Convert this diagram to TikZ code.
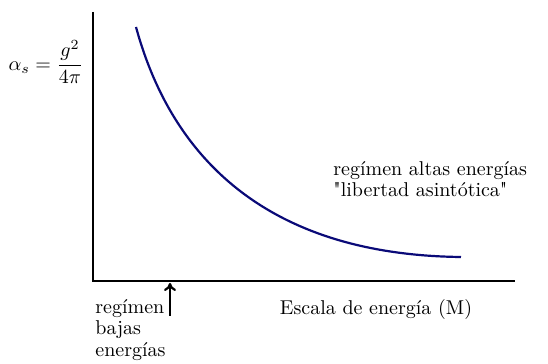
\documentclass[tikz,border=0pt]{standalone}
\usepackage{amsmath}
\usepackage{tikz}
\usetikzlibrary{arrows.meta, positioning}

\begin{document}
\begin{tikzpicture}[
    x=0.5pt, y=-0.5pt,
    axis/.style={line width=1.4pt, black},
    curve/.style={line width=1.1pt, draw={rgb,255:red,10;green,10;blue,120}},
    pointer/.style={-{To[length=4pt, width=6pt]}, line width=1.1pt, black},
    label/.style={align=left, inner sep=0pt, font={\fontsize{10}{10.8}\selectfont}}
]
    \useasboundingbox (0,0) rectangle (548,364);

    % Axes
    \coordinate (ytop) at (93,12);
    \coordinate (xend) at (515,281);
    \draw [axis] (ytop) |- (xend);

    % Coupling curve
    \coordinate (start) at (136,27);
    \coordinate (stop) at (461,257);
    \draw [curve] (start) .. controls (175,170) and (280,255) .. (stop);

    % Labels
    \node (alpha) [inner sep=0pt] at (46,62) {$\alpha_s = \dfrac{g^2}{4\pi}$};
    \node (high) [label, anchor=north west] at (333,161) {regímen altas energías\\\textquotedbl libertad asintótica\textquotedbl};
    \node (scale) [label, anchor=north] at (376,299) {Escala de energía (M)};
    \node (low) [label, anchor=north west] at (95,299) {regímen\\bajas\\energías};

    % Low energy pointer
    \coordinate (lowtip) at (170,283);
    \coordinate (lowfoot) at (170,316);
    \draw [pointer] (lowfoot) -- (lowtip);

\end{tikzpicture}
\end{document}
